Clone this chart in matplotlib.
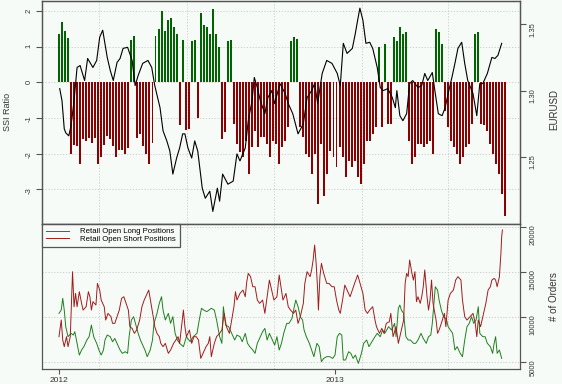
import matplotlib
matplotlib.use("Agg")
import matplotlib.pyplot as plt
import pandas as pd

# SSI ratio, one bar every 4 days from 2012-01-01
ssi_ratio = [
    1.36, 1.70, 1.45, 1.25, -2.0, -1.75, -1.8, -2.3, -1.6, -1.65,
    -1.55, -1.7, -1.55, -2.3, -2.1, -1.75, -1.5, -1.6, -1.8, -2.1,
    -1.9, -1.9, -2.0, -1.85, 1.2, 1.3, -1.55, -1.45, -1.8, -2.0,
    -2.3, -1.7, 1.3, 1.5, 2.0, 1.45, 1.75, 1.8, 1.55, 1.35,
    -1.2, 1.2, -1.35, -1.3, 1.15, 1.2, -1.0, 1.95, 1.6, 1.55,
    1.35, 2.05, 1.35, 1.0, -1.6, -1.4, 1.15, 1.2, -1.17, -1.73,
    -1.96, -2.1, -1.64, -2.57, -1.82, -1.36, -1.82, -1.54, -1.54, -1.73,
    -2.1, -1.64, -1.73, -2.29, -1.82, -1.64, -1.26, 1.17, 1.26, 1.21,
    -1.26, -1.54, -2.0, -2.1, -2.57, -2.0, -3.4, -1.73, -3.2, -2.57,
    -1.92, -2.1, -2.38, -1.82, -2.1, -2.66, -2.2, -2.38, -2.2, -2.66,
    -2.85, -2.29, -1.64, -1.64, -1.45, -1.26, 0.98, -1.26, 1.07, -1.17,
    -1.17, 1.26, 1.17, 1.54, 1.36, 1.4, -1.64, -2.29, -2.1, -1.73,
    -1.73, -1.82, -1.73, -1.64, -2.0, 1.5, 1.4, 1.07, -0.8, -1.26,
    -1.64, -1.82, -2.0, -2.29, -2.1, -1.82, -1.73, -1.17, 1.36, 1.4,
    -1.17, -1.21, -1.36, -1.73, -2.0, -2.29, -2.57, -3.13, -3.75,
]
ssi_dates = pd.date_range("2012-01-01", periods=len(ssi_ratio), freq="4D")

# EUR/USD close, days since 2012-01-01
eur_day = [
    1, 4, 7, 9, 13, 16, 20, 24, 28, 34, 38, 45, 50, 54, 58, 64, 68, 72, 77, 81,
    85, 91, 97, 101, 105, 111, 118, 123, 127, 134, 138, 143, 147, 151, 156, 160,
    164, 167, 171, 176, 180, 184, 190, 194, 200, 204, 210, 213, 217, 224, 231,
    236, 240, 247, 251, 256, 259, 263, 267, 273, 277, 282, 286, 293, 300, 304,
    310, 317, 324, 329, 335, 339, 343, 349, 355, 362, 369, 373, 377, 382, 389,
    393, 396, 399, 403, 407, 412, 416, 422, 426, 430, 436, 442, 446, 448, 452,
    456, 461, 465, 469, 476, 481, 485, 489, 495, 499, 503, 508, 512, 516, 521,
    525, 529, 534, 538, 542, 549, 554, 558, 562, 568, 574, 578, 582, 587,
]
eur_close = [
    1.3015, 1.2924, 1.2712, 1.2682, 1.2659, 1.2735, 1.2924, 1.3174, 1.3189, 1.3076,
    1.3242, 1.3174, 1.3227, 1.3402, 1.3455, 1.3250, 1.3152, 1.3076, 1.3212, 1.3242,
    1.3318, 1.3326, 1.3227, 1.3038, 1.3114, 1.3205, 1.3227, 1.3174, 1.3038, 1.2871,
    1.2697, 1.2621, 1.2545, 1.2371, 1.2492, 1.2568, 1.2674, 1.2674, 1.2568, 1.2492,
    1.2621, 1.2545, 1.2265, 1.2189, 1.2242, 1.2090, 1.2265, 1.2167, 1.2371, 1.2295,
    1.2318, 1.2523, 1.2470, 1.2568, 1.2773, 1.2924, 1.3099, 1.3023, 1.2924, 1.2826,
    1.2947, 1.3000, 1.2902, 1.3053, 1.2977, 1.2902, 1.2826, 1.2674, 1.2750, 1.2947,
    1.3000, 1.3053, 1.2902, 1.3129, 1.3227, 1.3205, 1.3129, 1.3038, 1.3356, 1.3280,
    1.3318, 1.3432, 1.3530, 1.3621, 1.3530, 1.3356, 1.3364, 1.3318, 1.3174, 1.3023,
    1.3000, 1.3015, 1.2947, 1.2871, 1.3000, 1.2811, 1.2773, 1.2826, 1.3053, 1.3076,
    1.3023, 1.3038, 1.3129, 1.3076, 1.3136, 1.2977, 1.2826, 1.2811, 1.2871, 1.2977,
    1.3099, 1.3205, 1.3318, 1.3364, 1.3205, 1.3076, 1.2977, 1.2811, 1.3053, 1.3053,
    1.3129, 1.3250, 1.3242, 1.3265, 1.3356,
]

# retail open long positions (# of orders)
long_day = [
    0, 3, 5, 7, 9, 12, 16, 19, 21, 24, 27, 30, 33, 37, 40, 43, 46, 50, 53, 56,
    59, 61, 64, 68, 71, 74, 77, 81, 84, 88, 91, 93, 96, 99, 102, 105, 108, 111,
    114, 117, 121, 124, 126, 130, 133, 136, 138, 141, 145, 148, 151, 154, 157,
    160, 165, 169, 174, 178, 183, 186, 189, 192, 196, 199, 202, 206, 209, 213,
    216, 218, 221, 225, 227, 230, 233, 236, 240, 243, 247, 250, 253, 257, 260,
    263, 266, 270, 273, 276, 279, 282, 286, 289, 292, 295, 298, 302, 305, 309,
    312, 314, 317, 320, 323, 325, 328, 332, 335, 338, 342, 345, 348, 351, 355,
    359, 363, 366, 369, 372, 375, 377, 380, 384, 387, 390, 393, 397, 401, 404,
    408, 411, 415, 419, 422, 426, 429, 432, 437, 441, 445, 447, 450, 452, 454,
    457, 460, 463, 466, 470, 473, 476, 480, 483, 487, 490, 493, 495, 499, 502,
    504, 507, 510, 514, 516, 519, 522, 525, 528, 532, 535, 538, 541, 544, 547,
    550, 553, 556, 558, 562, 565, 568, 572, 575, 577, 579, 581, 584, 587,
]
long_orders = [
    10370, 10740, 12040, 10740, 8890, 7780, 8150, 7960, 8330, 7040, 5740, 6300,
    6670, 7410, 7780, 9070, 7780, 7040, 6300, 5740, 6300, 7410, 7960, 7780, 7220,
    7590, 7040, 6300, 5930, 6110, 5930, 7780, 9630, 10000, 9070, 8150, 7410, 6850,
    6300, 5560, 6300, 7410, 9260, 10370, 11480, 12220, 10740, 9630, 10370, 9260,
    10000, 8150, 7410, 7040, 6670, 7780, 7220, 7780, 8150, 9630, 10930, 10740,
    10560, 10740, 10930, 10740, 9630, 7780, 7040, 11110, 9070, 8890, 8520, 7960,
    7410, 7960, 7780, 7220, 8150, 7040, 6670, 6300, 5930, 7040, 7590, 8330, 8700,
    7410, 8150, 7590, 6850, 7780, 6300, 7040, 8150, 9260, 9260, 9810, 11110, 11850,
    11110, 10000, 9630, 8520, 7780, 7040, 6300, 5560, 7040, 6670, 5000, 5370, 5560,
    5560, 5370, 5740, 7780, 8150, 7960, 5190, 5190, 6110, 5930, 5370, 5740, 4810,
    5930, 7040, 7410, 6670, 7220, 7780, 8150, 7780, 8520, 8150, 8890, 8520, 9260,
    7780, 10930, 11300, 10740, 10370, 7780, 7410, 7410, 7040, 7040, 7410, 8150,
    7590, 7040, 7780, 7960, 9260, 13330, 12960, 11850, 10740, 10000, 9630, 8890,
    8520, 8150, 6300, 6670, 5930, 5560, 7410, 8890, 9260, 10000, 9260, 9630, 11110,
    8150, 7780, 7780, 7040, 6670, 5930, 7040, 7780, 5930, 6300, 5370,
]

# retail open short positions (# of orders)
short_day = [
    0, 3, 5, 7, 10, 12, 15, 18, 20, 22, 24, 27, 30, 32, 36, 39, 41, 43, 45, 49,
    51, 54, 56, 60, 62, 65, 69, 71, 74, 77, 80, 83, 86, 89, 92, 94, 97, 100, 103,
    107, 110, 113, 116, 119, 122, 125, 127, 130, 133, 135, 138, 141, 145, 148,
    152, 155, 158, 160, 165, 167, 169, 173, 176, 179, 182, 185, 188, 191, 195,
    198, 200, 202, 206, 209, 213, 216, 219, 222, 226, 229, 232, 234, 236, 240,
    244, 247, 249, 251, 254, 257, 260, 263, 266, 270, 273, 276, 279, 282, 285,
    289, 292, 294, 297, 301, 304, 307, 311, 314, 317, 320, 324, 326, 329, 333,
    335, 337, 339, 341, 343, 344, 346, 348, 351, 355, 358, 362, 365, 368, 371,
    373, 376, 379, 382, 386, 389, 392, 396, 398, 403, 406, 409, 412, 416, 419,
    421, 425, 428, 431, 434, 438, 440, 443, 447, 450, 453, 457, 459, 461, 463,
    465, 468, 470, 472, 474, 476, 479, 481, 483, 485, 488, 490, 492, 494, 496,
    500, 502, 504, 507, 511, 513, 516, 519, 523, 526, 529, 533, 535, 538, 541,
    545, 549, 552, 554, 556, 559, 563, 566, 569, 572, 574, 577, 579, 581, 584,
    586, 587, 588,
]
short_orders = [
    7780, 9630, 7410, 6670, 7780, 6670, 7780, 15000, 11110, 12590, 11110, 12780,
    11480, 10740, 11110, 12780, 12220, 10740, 11670, 11300, 13700, 12960, 11850,
    11110, 9630, 10370, 10000, 9260, 9260, 10000, 10740, 12040, 12220, 11480,
    10740, 8890, 8700, 8150, 8520, 9630, 11110, 11850, 12410, 12960, 11480, 10000,
    8890, 8150, 7780, 7040, 6670, 7040, 5930, 6300, 7040, 7410, 7780, 7040, 10740,
    8890, 7780, 8520, 7040, 7780, 7780, 7410, 5370, 5930, 6670, 7040, 7780, 5560,
    7040, 7780, 8150, 8520, 10370, 8890, 8150, 9630, 11110, 12780, 11850, 12590,
    12960, 12220, 13890, 14820, 14450, 13330, 13330, 11850, 11480, 11850, 10370,
    12220, 14070, 12960, 11850, 12220, 14630, 13520, 11850, 12590, 11110, 10740,
    10370, 10740, 9260, 10000, 11480, 13700, 15000, 14450, 15190, 16300, 17960,
    15930, 12960, 10740, 14450, 15930, 14820, 13700, 13700, 13330, 13330, 11850,
    10740, 10370, 11850, 13520, 12960, 12220, 12960, 13700, 14630, 14070, 12590,
    10740, 10370, 10740, 11110, 9630, 8890, 8150, 8700, 8150, 9260, 9440, 10370,
    7780, 8890, 7040, 8150, 9630, 13700, 14820, 14450, 16300, 14820, 14070, 15000,
    11670, 12220, 11480, 12220, 13330, 15190, 12220, 10740, 11850, 14070, 11480,
    9630, 8150, 8520, 9260, 10370, 8890, 11850, 12590, 12960, 14070, 14450, 14070,
    11850, 10000, 9630, 10000, 10370, 9260, 7780, 9630, 8890, 10370, 11480, 12960,
    13330, 14070, 14260, 14070, 13330, 14450, 17040, 18890, 19630,
]

grid_days = [53, 170, 285, 402, 516]
year_days = [0, 366]
year_labels = ["2012", "2013"]
legend_labels = ["Retail Open Long Positions", "Retail Open Short Positions"]

bg = "#f7fbf7"
frame = "#555555"
txt = "#333333"
green = "#006400"
red = "#8b0000"
gridcol = "#c8c8c8"
dots = (0, (1.5, 2))

plt.rcParams["font.family"] = ["Liberation Sans", "DejaVu Sans"]
plt.rcParams["axes.unicode_minus"] = False

start = pd.Timestamp("2012-01-01")
ssi_day = (ssi_dates - start).days
ssi_colors = [green if v > 0 else red for v in ssi_ratio]

W, H = 562, 384
fig = plt.figure(figsize=(W / 100, H / 100), dpi=100, facecolor=bg)
ax1 = fig.add_axes([42 / W, 1 - 224 / H, 478 / W, 223 / H], facecolor=bg)
ax2 = fig.add_axes([42 / W, 1 - 369 / H, 478 / W, 145 / H], facecolor=bg)
xlim = (-22.5, 611.3)

# --- top panel: SSI bars + EURUSD
ax1.bar(ssi_day, ssi_ratio, width=2.6, color=ssi_colors, linewidth=0, zorder=2)
ax1.set_xlim(*xlim)
ax1.set_ylim(-3.975, 2.282)
ax1.set_yticks([2, 1, 0, -1, -2, -3])
ax1.set_xticks([])
ax1.grid(axis="y", color=gridcol, linestyle=dots, linewidth=0.6, zorder=0)
for d in grid_days:
    ax1.axvline(d, color=gridcol, linestyle=dots, linewidth=0.6, zorder=0)
ax1.tick_params(axis="y", direction="out", length=4, width=0.8, color=frame,
                labelsize=5.5, labelcolor=txt, labelrotation=90, pad=3)

ax1r = ax1.twinx()
ax1r.plot(eur_day, eur_close, color="black", linewidth=0.8, zorder=3)
ax1r.set_ylim(1.1995, 1.3675)
ax1r.set_yticks([1.25, 1.30, 1.35])
ax1r.set_yticklabels(["1.25", "1.30", "1.35"])
ax1r.tick_params(axis="y", direction="out", length=4, width=0.8, color=frame,
                 labelsize=5.5, labelcolor=txt, labelrotation=90, pad=3)

for ax in (ax1, ax1r, ax2):
    for s in ax.spines.values():
        s.set_color(frame)
        s.set_linewidth(0.9)

# --- bottom panel: orders
ax2.plot(long_day, long_orders, color="#1f7f1f", linewidth=0.7, label=legend_labels[0])
ax2.plot(short_day, short_orders, color="#a01c1c", linewidth=0.7, label=legend_labels[1])
ax2.set_xlim(*xlim)
ax2.set_ylim(4190, 20300)
ax2.set_yticks([5000, 10000, 15000, 20000])
ax2.yaxis.tick_right()
ax2.grid(axis="y", color=gridcol, linestyle=dots, linewidth=0.6, zorder=0)
for d in grid_days:
    ax2.axvline(d, color=gridcol, linestyle=dots, linewidth=0.6, zorder=0)
ax2.set_xticks(year_days)
ax2.set_xticklabels(year_labels)
ax2.tick_params(axis="x", direction="out", length=3.5, width=0.8, color=frame,
                labelsize=6, labelcolor=txt, pad=2.5)
ax2.tick_params(axis="y", direction="out", length=4, width=0.8, color=frame,
                labelsize=5.5, labelcolor=txt, labelrotation=90, pad=3)

leg = ax2.legend(loc="upper left", bbox_to_anchor=(0, 1), borderaxespad=0,
                 fontsize=5.6, frameon=True, fancybox=False, edgecolor=frame,
                 facecolor=bg, framealpha=1, handlelength=3.0, labelspacing=0.0,
                 borderpad=0.5, handletextpad=1.4)
leg.get_frame().set_linewidth(0.9)

# axis titles
fig.text(8 / W, 1 - 112 / H, "SSI Ratio", rotation=90, ha="center", va="center",
         fontsize=6.5, color=txt)
fig.text(554 / W, 1 - 110 / H, "EURUSD", rotation=90, ha="center", va="center",
         fontsize=7, color=txt)
fig.text(554 / W, 1 - 297 / H, "# of Orders", rotation=90, ha="center", va="center",
         fontsize=7, color=txt)

fig.savefig("out.png", dpi=100, facecolor=bg)
